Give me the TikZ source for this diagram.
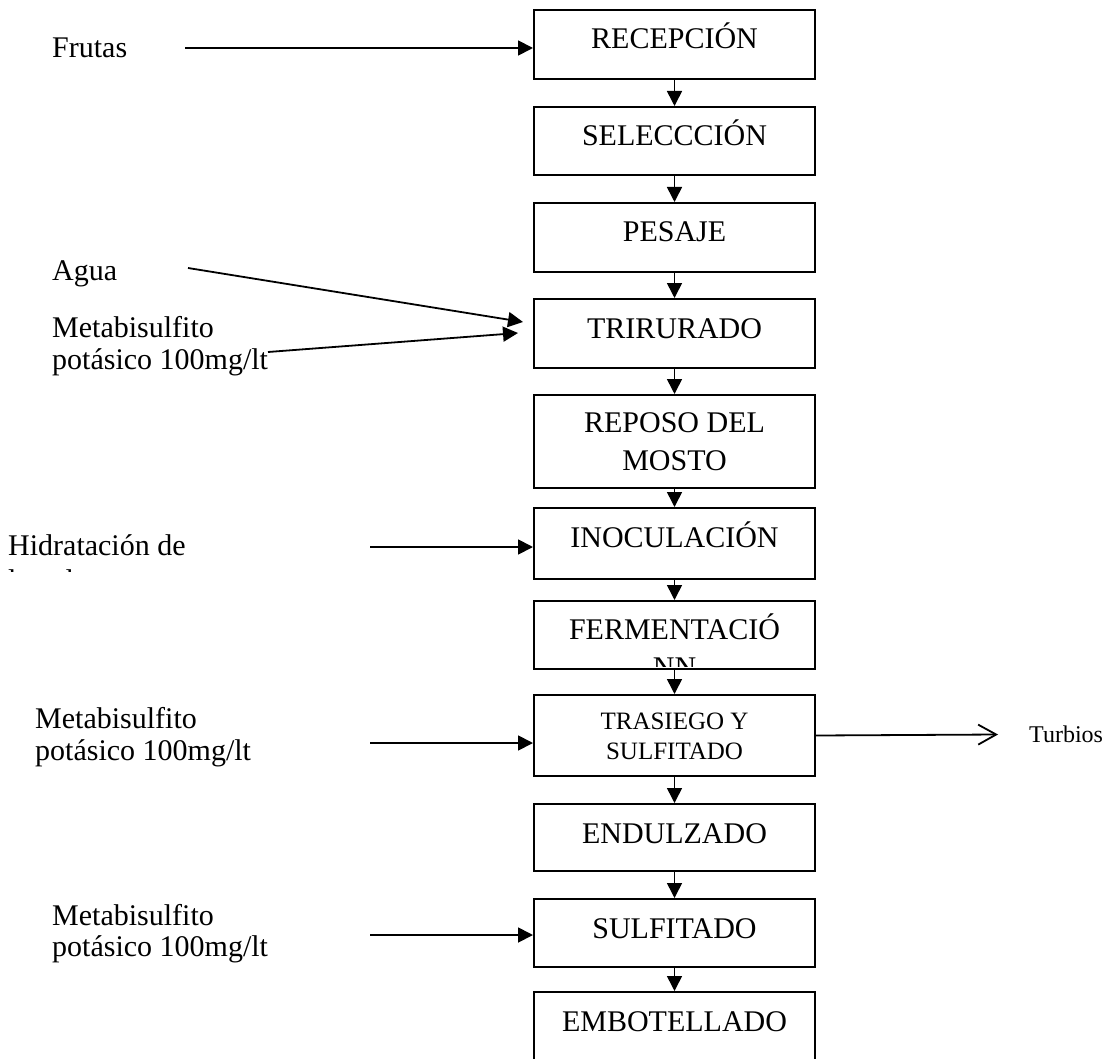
\documentclass[tikz,border=0pt]{standalone}
\usepackage{fontspec}
\setmainfont{Liberation Serif}
\usetikzlibrary{arrows.meta}
\begin{document}
\begin{tikzpicture}[x=1pt,y=-1pt,
  box/.style={draw, line width=2pt, minimum width=281pt, inner sep=0pt, anchor=north},
  lbl/.style={font=\fontsize{30}{36}\selectfont, inner sep=0pt, anchor=base},
  slbl/.style={font=\fontsize{25}{30}\selectfont, inner sep=0pt, anchor=base},
  tlbl/.style={font=\fontsize{24}{28}\selectfont, inner sep=0pt, anchor=base west},
  llbl/.style={font=\fontsize{30}{36}\selectfont, inner sep=0pt, anchor=base west},
  flow/.style={line width=1.6pt, -{Triangle[length=15pt,width=15pt]}},
  side/.style={line width=1.8pt, -{Triangle[length=15pt,width=15pt]}},
  outarrow/.style={line width=1.8pt, -{Straight Barb[length=18pt,width=20pt]}}]
\clip (0,0) rectangle (1118,1059);
% boxes
\node[box, minimum height=69pt] (b1) at (674.5,9) {};
\node[box, minimum height=68pt] (b2) at (674.5,106) {};
\node[box, minimum height=69pt] (b3) at (674.5,202) {};
\node[box, minimum height=69pt] (b4) at (674.5,298) {};
\node[box, minimum height=93pt] (b5) at (674.5,394) {};
\node[box, minimum height=71pt] (b6) at (674.5,507) {};
\node[box, minimum height=68pt] (b7) at (674.5,600) {};
\node[box, minimum height=81pt] (b8) at (674.5,694) {};
\node[box, minimum height=67pt] (b9) at (674.5,803) {};
\node[box, minimum height=68pt] (b10) at (674.5,898) {};
\node[box, minimum height=90pt] (b11) at (674.5,991) {};
% box texts
\node[lbl] (t1) at (674.5,49) {RECEPCIÓN};
\node[lbl] (t2) at (674.5,146) {SELECCCIÓN};
\node[lbl] (t3) at (674.5,242) {PESAJE};
\node[lbl] (t4) at (674.5,338) {TRIRURADO};
\node[lbl] (t5a) at (674.5,432) {REPOSO DEL};
\node[lbl] (t5b) at (674.5,470) {MOSTO};
\node[lbl] (t6) at (674.5,547) {INOCULACIÓN};
\node[lbl] (t7) at (674.5,639) {FERMENTACIÓ};
\begin{scope}
  \clip (536,600) rectangle (813,666);
  \node[lbl] (t7b) at (674.5,677) {NN};
\end{scope}
\node[slbl] (t8a) at (674.5,729) {TRASIEGO Y};
\node[slbl] (t8b) at (674.5,759) {SULFITADO};
\node[lbl] (t9) at (674.5,843) {ENDULZADO};
\node[lbl] (t10) at (674.5,938) {SULFITADO};
\node[lbl] (t11) at (674.5,1031) {EMBOTELLADO};
% vertical flow
\draw[flow] (b1) -- (b2);
\draw[flow] (b2) -- (b3);
\draw[flow] (b3) -- (b4);
\draw[flow] (b4) -- (b5);
\draw[flow] (b5) -- (b6);
\draw[flow] (b6) -- (b7);
\draw[flow] (b7) -- (b8);
\draw[flow] (b8) -- (b9);
\draw[flow] (b9) -- (b10);
\draw[flow] (b10) -- (b11);
% left labels
\node[llbl] (frutas) at (52,58) {Frutas};
\node[llbl] (agua) at (52,280) {Agua};
\node[llbl] (m1a) at (52,337) {Metabisulfito};
\node[llbl] (m1b) at (52,369) {potásico 100mg/lt};
\node[llbl] (hid) at (8,555) {Hidratación de};
\begin{scope}
  \clip (0,520) rectangle (300,571);
  \node[llbl] (hidb) at (8,590) {levaduras};
\end{scope}
\node[llbl] (m2a) at (35,728) {Metabisulfito};
\node[llbl] (m2b) at (35,760) {potásico 100mg/lt};
\node[llbl] (m3a) at (52,925) {Metabisulfito};
\node[llbl] (m3b) at (52,956) {potásico 100mg/lt};
\node[tlbl] (turb) at (1029,742) {Turbios};
% side arrows
\coordinate (sf) at (185,48);
\coordinate (sa) at (188,268);
\coordinate (ea) at (523,322);
\coordinate (sm) at (268,352);
\coordinate (em) at (518,333);
\coordinate (sh) at (370,547);
\coordinate (s2) at (370,743);
\coordinate (s3) at (370,935);
\coordinate (et) at (998,734.5);
\draw[side] (sf) -- (b1.west |- sf);
\draw[side] (sa) -- (ea);
\draw[side] (sm) -- (em);
\draw[side] (sh) -- (b6.west |- sh);
\draw[side] (s2) -- (b8.west |- s2);
\draw[side] (s3) -- (b10.west |- s3);
\draw[outarrow] (b8.east) -- (et);
\end{tikzpicture}
\end{document}
